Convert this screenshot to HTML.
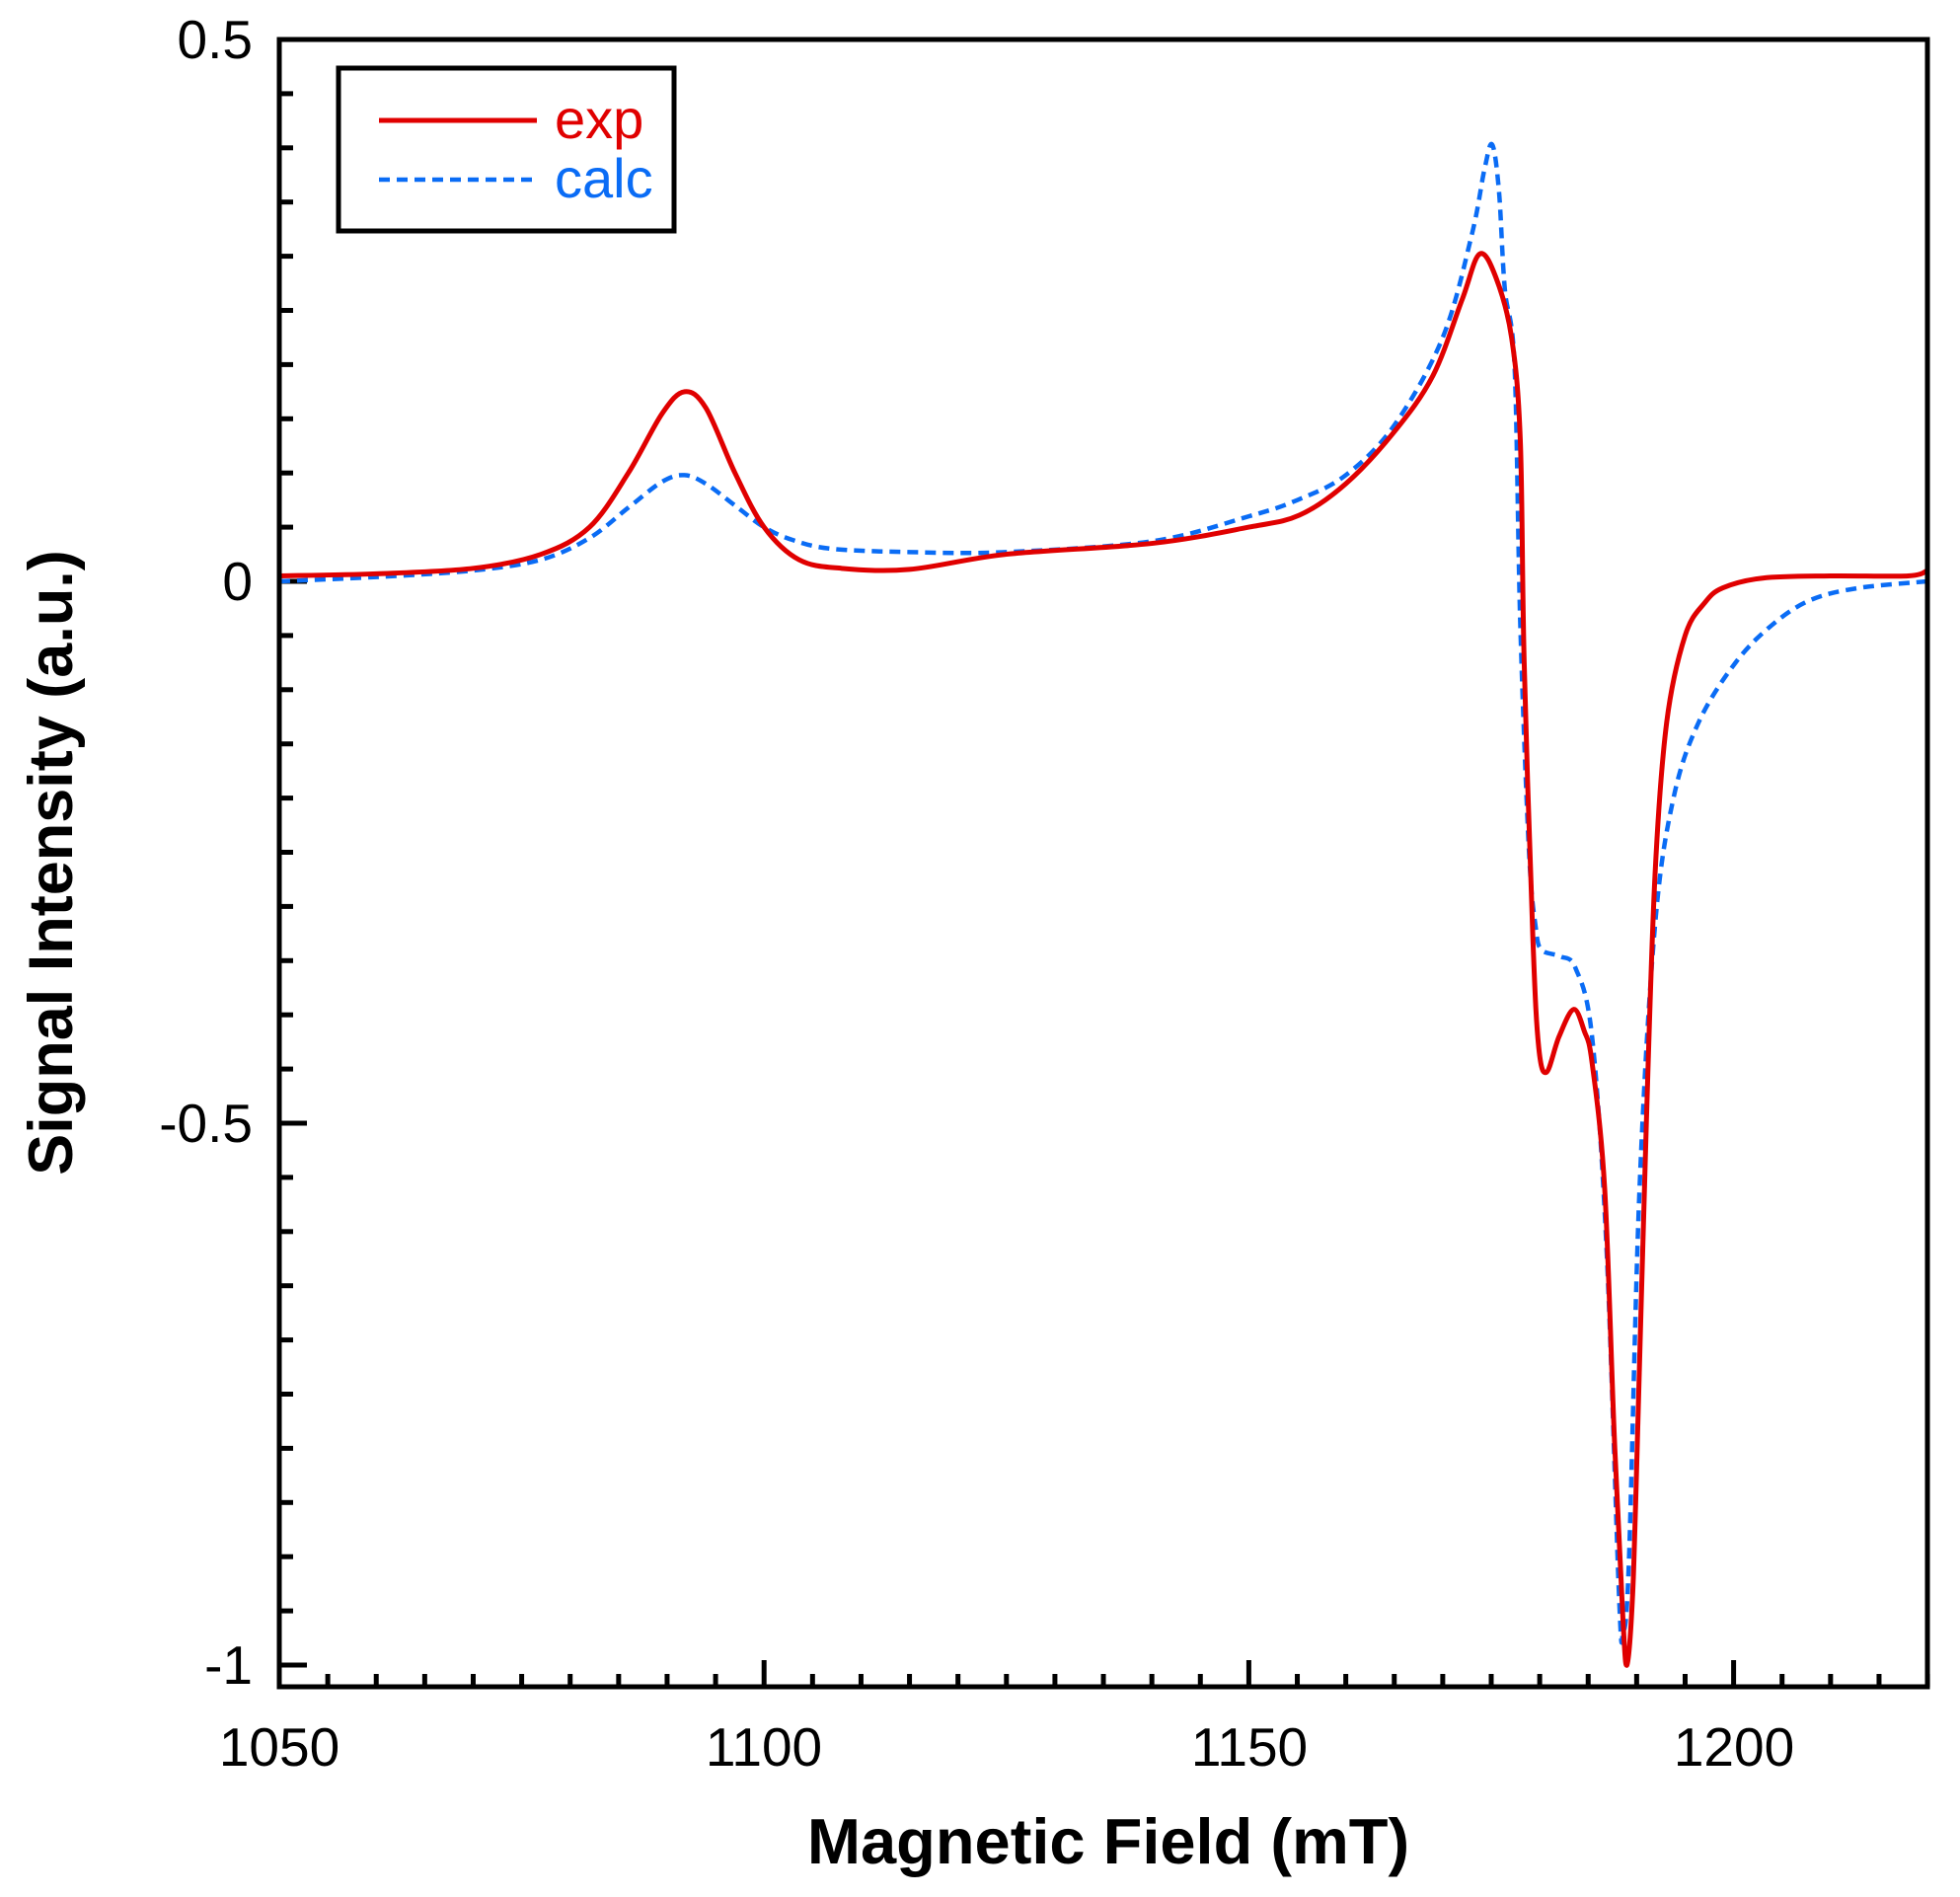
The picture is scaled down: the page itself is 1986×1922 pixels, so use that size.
<!DOCTYPE html>
<html><head><meta charset="utf-8"><style>
html,body{margin:0;padding:0;background:#fff}
svg{display:block}
text{font-family:"Liberation Sans",Arial,sans-serif}
</style></head><body>
<svg id="s" width="1986" height="1922" viewBox="0 0 1986 1922" xmlns="http://www.w3.org/2000/svg">
<rect width="1986" height="1922" fill="#fff"/>
<g id="ticks" stroke="#000" stroke-width="5"></g>
<path id="calc" fill="none" stroke="#0a6cf5" stroke-width="4.5" stroke-dasharray="11,7"/>
<path id="exp" fill="none" stroke="#e00000" stroke-width="5"/>
<rect x="283" y="40" width="1670" height="1669" fill="none" stroke="#000" stroke-width="5"/>
<rect x="343" y="69" width="340" height="165" fill="#fff" stroke="#000" stroke-width="5"/>
<line x1="384" y1="122" x2="544" y2="122" stroke="#e00000" stroke-width="5"/>
<line x1="384" y1="182" x2="544" y2="182" stroke="#0a6cf5" stroke-width="4.5" stroke-dasharray="11,7"/>
<text x="562" y="140" font-size="56" fill="#e00000">exp</text>
<text x="562" y="200" font-size="56" fill="#0a6cf5">calc</text>
<g font-size="55" fill="#000" text-anchor="end">
<text x="256" y="59">0.5</text>
<text x="256" y="608">0</text>
<text x="256" y="1157">-0.5</text>
<text x="256" y="1706">-1</text>
</g>
<g font-size="55" fill="#000" text-anchor="middle">
<text x="283" y="1789">1050</text>
<text x="774" y="1789">1100</text>
<text x="1266" y="1789">1150</text>
<text x="1757" y="1789">1200</text>
</g>
<text x="1123" y="1888" font-size="65" font-weight="bold" text-anchor="middle">Magnetic Field (mT)</text>
<text transform="translate(73,874) rotate(-90)" font-size="63" font-weight="bold" text-anchor="middle">Signal Intensity (a.u.)</text>
</svg>
<script>
var X=function(b){return 283+(b-1050)*9.824},Y=function(v){return 589-v*1098};
var g=document.getElementById('ticks'),h='';
for(var i=0;i<=34;i++){var x=X(1050+i*5),L=(i%10==0)?27:13;h+='<line x1="'+x+'" y1="1709" x2="'+x+'" y2="'+(1709-L)+'"/>';}
for(var j=0;j<=30;j++){var v=0.5-j*0.05,y=Y(v),L=(j%10==0)?28:14;h+='<line x1="283" y1="'+y+'" x2="'+(283+L)+'" y2="'+y+'"/>';}
g.innerHTML=h;
function path(p){var q=p.map(function(a){return[X(a[0]),Y(a[1])]});var d='M'+q[0][0]+','+q[0][1];
for(var i=0;i<q.length-1;i++){var p0=q[i-1]||q[i],p1=q[i],p2=q[i+1],p3=q[i+2]||p2;
d+=' C'+(p1[0]+(p2[0]-p0[0])/6)+','+(p1[1]+(p2[1]-p0[1])/6)+' '+(p2[0]-(p3[0]-p1[0])/6)+','+(p2[1]-(p3[1]-p1[1])/6)+' '+p2[0]+','+p2[1];}return d;}
var exp=[[1050,0.005],[1060,0.007],[1070,0.012],[1077,0.025],[1082,0.05],[1086,0.1],[1089.5,0.155],[1091.8,0.175],[1094,0.16],[1097,0.1],[1100,0.05],[1103.6,0.02],[1108,0.012],[1115,0.011],[1125,0.025],[1140,0.035],[1150,0.05],[1155.2,0.061],[1160,0.09],[1165,0.138],[1169,0.19],[1172,0.26],[1173.8,0.302],[1175.5,0.28],[1177.1,0.225],[1178,0.13],[1178.4,-0.075],[1179.3,-0.33],[1179.9,-0.43],[1180.7,-0.453],[1182,-0.42],[1183.5,-0.395],[1184.6,-0.415],[1185.4,-0.444],[1186.7,-0.56],[1187.7,-0.79],[1188.6,-0.96],[1189,-1.0],[1189.5,-0.95],[1189.9,-0.85],[1191,-0.5],[1191.9,-0.27],[1193.1,-0.13],[1195,-0.05],[1197,-0.02],[1198.9,-0.006],[1203,0.003],[1210,0.005],[1218,0.005],[1220,0.01]];
var calc=[[1050,0.0],[1060,0.004],[1070,0.01],[1077,0.02],[1082,0.04],[1086,0.068],[1089.5,0.092],[1091.8,0.098],[1094,0.09],[1097,0.07],[1100,0.05],[1103,0.038],[1107,0.03],[1115,0.027],[1125,0.027],[1140,0.037],[1150,0.06],[1155,0.075],[1160,0.098],[1165,0.144],[1170,0.225],[1173,0.32],[1174.3,0.38],[1175.1,0.403],[1175.8,0.36],[1176.4,0.27],[1177.4,0.2],[1178,-0.04],[1178.9,-0.25],[1179.6,-0.32],[1180.2,-0.34],[1182.1,-0.346],[1183.7,-0.357],[1185.4,-0.42],[1186.9,-0.617],[1188.2,-0.94],[1188.6,-0.97],[1189.2,-0.905],[1190.3,-0.56],[1191.9,-0.317],[1193.8,-0.2],[1196.4,-0.13],[1200.2,-0.075],[1204,-0.04],[1208,-0.017],[1213,-0.006],[1220,0.0]];
document.getElementById('exp').setAttribute('d',path(exp));
document.getElementById('calc').setAttribute('d',path(calc));
</script>
</body></html>
